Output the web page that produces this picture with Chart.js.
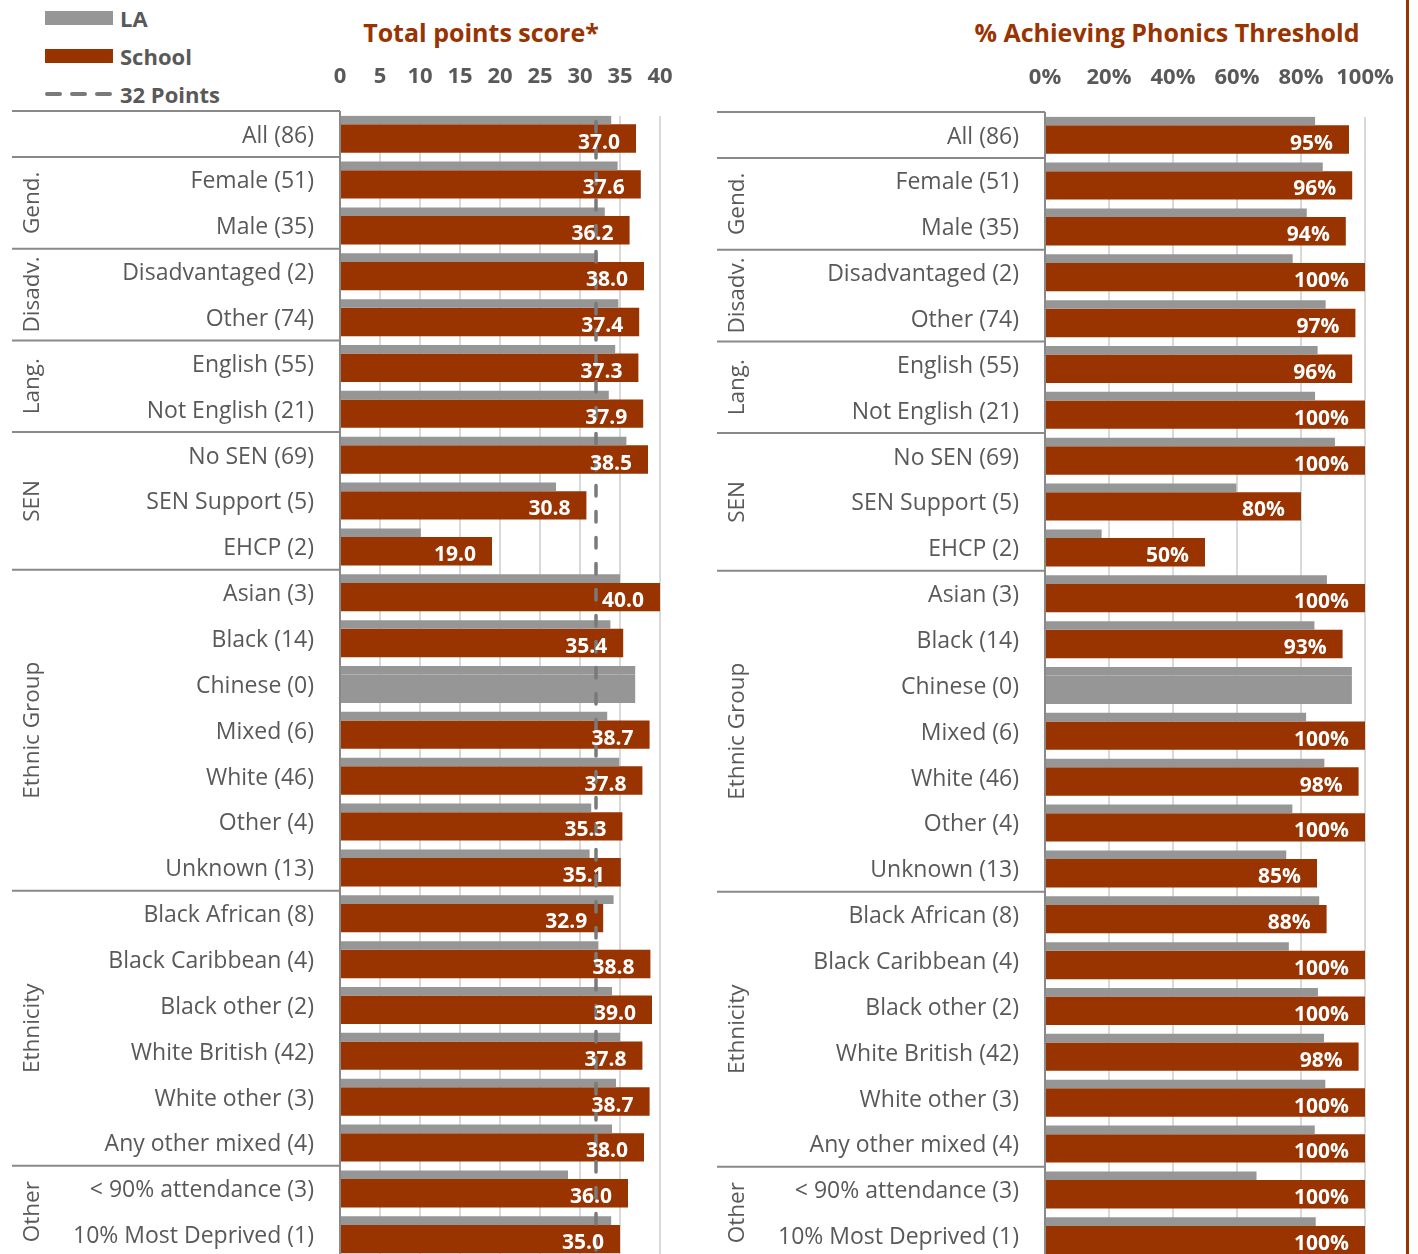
<!DOCTYPE html>
<html lang="en">
<head>
<meta charset="UTF-8">
<title>Total points score and Phonics Threshold</title>
<script src="https://cdn.jsdelivr.net/npm/chart.js"></script>
<style>
    body {
        margin: 0;
        width: 1418px;
        height: 1254px;
        overflow: hidden;
        background: #ffffff;
        font-family: "Open Sans", sans-serif;
        position: relative;
    }
    canvas { position: absolute; }
    #pointsChart { left: 0; top: 0; }
    #phonicsChart { left: 705px; top: 1px; }

    .legend-item {
        position: absolute;
        left: 45px;
        height: 26px;
        display: flex;
        align-items: center;
        font-weight: bold;
        font-size: 22px;
        color: #595959;
    }
    .legend-swatch { width: 68px; height: 14px; margin-right: 7px; }

    .panel-title {
        position: absolute;
        top: 15px;
        font-weight: bold;
        font-size: 25px;
        line-height: 34px;
        color: #993300;
        white-space: nowrap;
        transform: translateX(-50%);
    }
    .frame-line {
        position: absolute;
        left: 1406px;
        top: 0;
        width: 3px;
        height: 1254px;
        background: #993300;
    }
</style>
</head>
<body>

<div class="legend-item" style="top:5px"><div class="legend-swatch" style="background:#969696"></div>LA</div>
<div class="legend-item" style="top:43px"><div class="legend-swatch" style="background:#993300"></div>School</div>
<div class="legend-item" style="top:81px">
    <svg width="68" height="14" style="margin-right:7px">
        <line x1="2" y1="7" x2="66" y2="7" stroke="#7a7a7a" stroke-width="4" stroke-dasharray="13 12" stroke-linecap="round"/>
    </svg>32 Points
</div>

<div class="panel-title" style="left:481px">Total points score*</div>
<div class="panel-title" style="left:1167px">% Achieving Phonics Threshold</div>
<div class="frame-line"></div>

<canvas id="pointsChart" width="700" height="1262"></canvas>
<canvas id="phonicsChart" width="700" height="1262"></canvas>

<script>
// Categories (pupil numbers in brackets) and the groups they belong to
const categories = [
    'All (86)', 'Female (51)', 'Male (35)', 'Disadvantaged (2)', 'Other (74)',
    'English (55)', 'Not English (21)', 'No SEN (69)', 'SEN Support (5)', 'EHCP (2)',
    'Asian (3)', 'Black (14)', 'Chinese (0)', 'Mixed (6)', 'White (46)', 'Other (4)', 'Unknown (13)',
    'Black African (8)', 'Black Caribbean (4)', 'Black other (2)', 'White British (42)',
    'White other (3)', 'Any other mixed (4)', '< 90% attendance (3)', '10% Most Deprived (1)'
];
const groupNames = ['', 'Gend.', 'Disadv.', 'Lang.', 'SEN', 'Ethnic Group', 'Ethnicity', 'Other'];
const groupSizes = [1, 2, 2, 2, 3, 7, 6, 2];

// Total points score
const laPoints = [33.9, 34.7, 33.1, 32.2, 34.8, 34.4, 33.6, 35.8, 27.0, 10.1,
    35.0, 33.8, 36.9, 33.4, 34.9, 31.4, 31.2,
    34.2, 32.3, 34.0, 35.0, 34.5, 34.0, 28.5, 33.9];
const schoolPoints = [37.0, 37.6, 36.2, 38.0, 37.4, 37.3, 37.9, 38.5, 30.8, 19.0,
    40.0, 35.4, null, 38.7, 37.8, 35.3, 35.1,
    32.9, 38.8, 39.0, 37.8, 38.7, 38.0, 36.0, 35.0];
const pointsThreshold = 32;
const pointsTicks = [0, 5, 10, 15, 20, 25, 30, 35, 40];

// % achieving phonics threshold
const laPhonics = [84.4, 86.8, 81.8, 77.4, 87.7, 85.2, 84.4, 90.6, 59.8, 17.7,
    88.1, 84.2, 95.9, 81.6, 87.3, 77.3, 75.4,
    85.7, 76.2, 85.3, 87.2, 87.6, 84.3, 66.1, 84.6];
const schoolPhonics = [95, 96, 94, 100, 97, 96, 100, 100, 80, 50,
    100, 93, null, 100, 98, 100, 85,
    88, 100, 100, 98, 100, 100, 100, 100];
const phonicsTicks = [0, 20, 40, 60, 80, 100];

const GREY = '#969696';
const ORANGE = '#993300';
const TEXT = '#595959';
const LINE = '#898989';
const SEP_SHIFT = -4.5;     // group boundaries sit a little above the category edges
const LABEL_SHIFT = -2.5;   // category text sits a little above the bar group centre

const panelPlugin = {
    id: 'panelExtras',
    afterDatasetsDraw(chart, args, opts) {
        const ctx = chart.ctx;
        const area = chart.chartArea;
        const yScale = chart.scales.y;
        const xScale = chart.scales.x;
        const rowH = yScale.getPixelForValue(1) - yScale.getPixelForValue(0);
        const edge = i => yScale.getPixelForValue(i) - rowH / 2 + SEP_SHIFT;

        ctx.save();
        // group separators and rotated group names
        ctx.strokeStyle = LINE;
        ctx.lineWidth = 2;
        let start = 0;
        groupSizes.forEach((n, g) => {
            const top = edge(start);
            ctx.beginPath();
            ctx.moveTo(12, top);
            ctx.lineTo(area.left, top);
            ctx.stroke();
            if (groupNames[g]) {
                const mid = (top + edge(start + n)) / 2;
                ctx.save();
                ctx.translate(33, mid);
                ctx.rotate(-Math.PI / 2);
                ctx.fillStyle = TEXT;
                ctx.font = '22.5px "Open Sans"';
                ctx.textAlign = 'center';
                ctx.textBaseline = 'middle';
                ctx.fillText(groupNames[g], 0, 0);
                ctx.restore();
            }
            start += n;
        });
        // category axis line
        ctx.beginPath();
        ctx.moveTo(area.left, edge(0));
        ctx.lineTo(area.left, area.bottom);
        ctx.stroke();

        // reference line
        if (opts.threshold != null) {
            const x = xScale.getPixelForValue(opts.threshold);
            ctx.strokeStyle = '#7a7a7a';
            ctx.lineWidth = 3.5;
            ctx.lineCap = 'round';
            ctx.setLineDash([10.5, 15.5]);
            ctx.beginPath();
            ctx.moveTo(x, area.top + 6);
            ctx.lineTo(x, area.bottom);
            ctx.stroke();
            ctx.setLineDash([]);
        }

        // school values inside the bar ends
        const meta = chart.getDatasetMeta(1);
        const values = chart.data.datasets[1].data;
        ctx.fillStyle = '#ffffff';
        ctx.font = 'bold 21px "Open Sans"';
        ctx.textAlign = 'right';
        ctx.textBaseline = 'alphabetic';
        meta.data.forEach((bar, i) => {
            if (values[i] == null) return;
            ctx.fillText(opts.format(values[i]), bar.x - 16, bar.y + 10);
        });
        ctx.restore();
    }
};

function makePanel(canvasId, la, school, max, ticks, tickFormat, valueFormat, threshold) {
    const laOnly = la.map((v, i) => school[i] == null ? v : null);
    const common = { categoryPercentage: 1.21 };
    new Chart(document.getElementById(canvasId), {
        type: 'bar',
        data: {
            labels: categories,
            datasets: [
                { label: 'LA', data: la, backgroundColor: GREY, stack: 'la', barPercentage: 0.465, ...common },
                { label: 'School', data: school, backgroundColor: ORANGE, stack: 'school', barPercentage: 1.535, ...common },
                { label: 'LA (no school result)', data: laOnly, backgroundColor: GREY, stack: 'school', barPercentage: 1.535, ...common },
                { label: 'spacer', data: categories.map(() => null), stack: 'spacer', ...common }
            ]
        },
        options: {
            indexAxis: 'y',
            responsive: false,
            animation: false,
            devicePixelRatio: 1,
            layout: { padding: { left: 0, right: 40, top: 0, bottom: 0 } },
            scales: {
                x: {
                    position: 'top',
                    min: 0,
                    max: max,
                    afterFit: scale => {
                        scale.height = 115.6;
                        scale.paddingLeft = 0;
                        scale.paddingRight = 0;
                    },
                    afterBuildTicks: scale => { scale.ticks = ticks.map(v => ({ value: v })); },
                    grid: { color: '#d9d9d9', lineWidth: 2, drawTicks: false },
                    border: { display: false },
                    ticks: {
                        padding: 26,
                        color: TEXT,
                        font: { family: 'Open Sans', size: 22, weight: 'bold' },
                        callback: tickFormat
                    }
                },
                y: {
                    afterFit: scale => {
                        scale.width = 340;
                        scale.paddingTop = 0;
                        scale.paddingBottom = 0;
                    },
                    grid: { display: false, drawTicks: false },
                    border: { display: false },
                    ticks: {
                        padding: 26,
                        labelOffset: LABEL_SHIFT,
                        color: TEXT,
                        autoSkip: false,
                        font: { family: 'Open Sans', size: 23 }
                    }
                }
            },
            plugins: {
                legend: { display: false },
                tooltip: { enabled: false },
                panelExtras: { threshold: threshold, format: valueFormat }
            }
        },
        plugins: [panelPlugin]
    });
}

makePanel('pointsChart', laPoints, schoolPoints, 40, pointsTicks,
    v => String(v), v => v.toFixed(1), pointsThreshold);
makePanel('phonicsChart', laPhonics, schoolPhonics, 100, phonicsTicks,
    v => v + '%', v => Math.round(v) + '%', null);
</script>
</body>
</html>
